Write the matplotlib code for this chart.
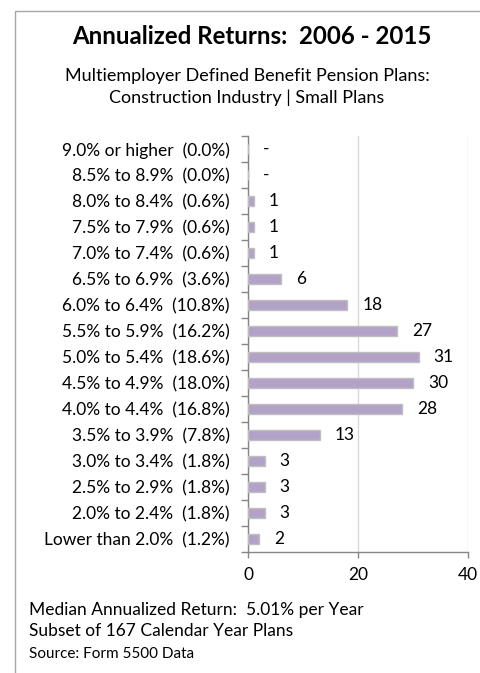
import matplotlib
matplotlib.use("Agg")
import matplotlib.pyplot as plt
from matplotlib.patches import Rectangle
import numpy as np

plt.rcParams['font.family'] = ['Lato', 'DejaVu Sans']

# data, top row first as in the picture
categories = ["9.0% or higher  (0.0%)", "8.5% to 8.9%  (0.0%)", "8.0% to 8.4%  (0.6%)",
              "7.5% to 7.9%  (0.6%)", "7.0% to 7.4%  (0.6%)", "6.5% to 6.9%  (3.6%)",
              "6.0% to 6.4%  (10.8%)", "5.5% to 5.9%  (16.2%)", "5.0% to 5.4%  (18.6%)",
              "4.5% to 4.9%  (18.0%)", "4.0% to 4.4%  (16.8%)", "3.5% to 3.9%  (7.8%)",
              "3.0% to 3.4%  (1.8%)", "2.5% to 2.9%  (1.8%)", "2.0% to 2.4%  (1.8%)",
              "Lower than 2.0%  (1.2%)"]
counts = [0, 0, 1, 1, 1, 6, 18, 27, 31, 30, 28, 13, 3, 3, 3, 2]
x_ticks = [0, 20, 40]

title = "Annualized Returns:  2006 - 2015"
subtitle = "Multiemployer Defined Benefit Pension Plans:\nConstruction Industry | Small Plans"
footer = ["Median Annualized Return:  5.01% per Year", "Subset of 167 Calendar Year Plans"]
source = "Source: Form 5500 Data"

W, H = 480, 673
fig = plt.figure(figsize=(W / 100, H / 100), dpi=100)

# outer chart border (open on right/bottom, runs off the picture)
fig.patches.append(Rectangle((15 / W, -0.1), 1.2, 1 - 11 / H + 0.1, transform=fig.transFigure,
                             fill=False, edgecolor="#A6A6A6", linewidth=1.0))

ax = fig.add_axes([248 / W, 1 - 552 / H, 220 / W, 416 / H])
y = np.arange(len(categories))
ax.barh(y, counts, height=0.42, color="#B3A2C7", edgecolor="#BFBFBF", linewidth=1.0, zorder=3)
ax.set_ylim(len(categories) - 0.5, -0.5)
ax.set_xlim(0, 40)

for yi, c in zip(y, counts):
    lab = "-" if c == 0 else str(c)
    ax.annotate(lab, (c, yi), xytext=(11, 0), textcoords="offset points",
                ha="left", va="center", fontsize=12.5, color="black")

ax.set_yticks(y)
ax.set_yticklabels(categories, fontsize=12.5)
ax.set_yticks(np.arange(len(categories) + 1) - 0.5, minor=True)
ax.tick_params(axis="y", which="major", length=0, pad=13)
ax.tick_params(axis="y", which="minor", length=5, color="#868686", width=1)
ax.set_xticks(x_ticks)
ax.set_xticklabels([str(t) for t in x_ticks], fontsize=12.5)
ax.tick_params(axis="x", length=4, color="#868686", width=1, pad=7)

ax.grid(axis="x", color="#D9D9D9", linewidth=1.0, zorder=0)
for s in ["top", "right"]:
    ax.spines[s].set_visible(False)
for s in ["left", "bottom"]:
    ax.spines[s].set_color("#868686")
    ax.spines[s].set_linewidth(1.0)

fig.text(252 / W, 1 - 37 / H, title, ha="center", va="center", fontsize=17.3, fontweight="bold")
fig.text(247 / W, 1 - 87 / H, subtitle, ha="center", va="center", fontsize=13, linespacing=1.45)
fig.text(29 / W, 1 - 610 / H, footer[0], ha="left", va="center", fontsize=12.5)
fig.text(29 / W, 1 - 631 / H, footer[1], ha="left", va="center", fontsize=12.5)
fig.text(29 / W, 1 - 654 / H, source, ha="left", va="center", fontsize=11)

fig.savefig("out.png", dpi=100)
